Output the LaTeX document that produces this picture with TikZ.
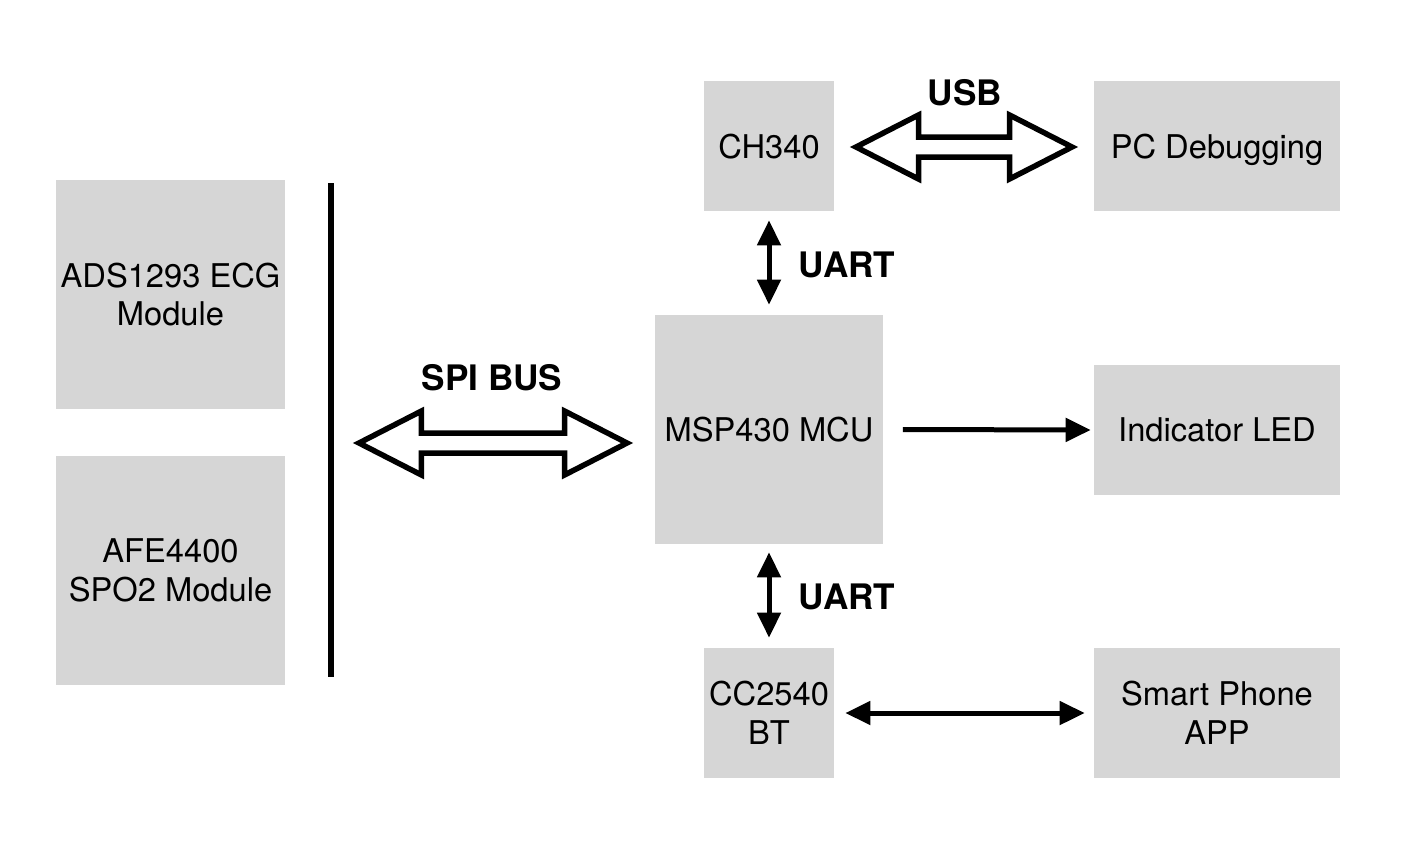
\documentclass[tikz,border=0pt]{standalone}
\usepackage{fontspec}
\setmainfont{TeX Gyre Heros}
\usetikzlibrary{arrows.meta,calc}
\definecolor{boxgray}{RGB}{214,214,214}

% hollow double arrow from tip #1 to tip #2 (horizontal)
\newcommand{\widearrow}[2]{%
	\draw[widelink] let \p1=(#1), \p2=(#2) in
		(\x1,\y1) -- (\x1+1.25cm,\y1+0.64cm) -- (\x1+1.25cm,\y1+0.2cm)
		-- (\x2-1.25cm,\y1+0.2cm) -- (\x2-1.25cm,\y1+0.64cm) -- (\x2,\y1)
		-- (\x2-1.25cm,\y1-0.64cm) -- (\x2-1.25cm,\y1-0.2cm)
		-- (\x1+1.25cm,\y1-0.2cm) -- (\x1+1.25cm,\y1-0.64cm) -- cycle;}

\tikzset{
	block/.style={fill=boxgray,align=center,inner sep=0pt},
	oneline/.style={text depth=0pt},
	bigblock/.style={block,minimum width=4.58cm,minimum height=4.58cm},
	smallblock/.style={block,minimum width=2.6cm,minimum height=2.6cm},
	wideblock/.style={block,minimum width=4.92cm,minimum height=2.6cm},
	lbl/.style={font=\fontsize{20}{24}\selectfont\bfseries},
	link/.style={line width=0.1cm,{Triangle[length=0.5cm,width=0.46cm]}-{Triangle[length=0.5cm,width=0.46cm]}},
	onelink/.style={line width=0.1cm,-{Triangle[length=0.5cm,width=0.46cm]}},
	widelink/.style={line width=0.11cm,line join=miter}
}

\begin{document}
\begin{tikzpicture}[x=0.02cm,y=-0.02cm,font=\fontsize{18.6}{22}\selectfont]
	\useasboundingbox (0,0) rectangle (1422,862);
	\node[bigblock] (ecg) at (170.5,294.5) {ADS1293 ECG\\Module};
	\node[bigblock] (spo) at (170.5,570.5) {AFE4400\\SPO2 Module};
	\node[bigblock,oneline] (mcu) at (769,429.5) {MSP430 MCU};
	\node[smallblock,oneline] (ch) at (769,146) {CH340};
	\node[smallblock] (bt) at (769,713) {CC2540\\BT};
	\node[wideblock,oneline] (pc) at (1217,146) {PC Debugging};
	\node[wideblock,oneline] (led) at (1217,430) {Indicator LED};
	\node[wideblock] (app) at (1217,713) {Smart Phone\\APP};
	% bus
	\coordinate (bustop) at (330.5,183);
	\coordinate (busbot) at (330.5,677);
	\draw[line width=0.12cm] (bustop)--(busbot);
	% wide arrows
	\coordinate (spiL) at (359,443);
	\coordinate (spiR) at (627,443);
	\widearrow{spiL}{spiR}
	\coordinate (usbL) at (856,147);
	\coordinate (usbR) at (1072,147);
	\widearrow{usbL}{usbR}
	% thin arrows
	\draw[link] ([yshift=-0.18cm]ch.south)--([yshift=0.2cm]mcu.north);
	\draw[link] ([yshift=-0.16cm]mcu.south)--([yshift=0.2cm]bt.north);
	\draw[onelink] ([xshift=0.38cm]mcu.east)--([xshift=-0.06cm]led.west);
	\draw[link] ([xshift=0.22cm]bt.east)--([xshift=-0.18cm]app.west);
	% labels
	\node[lbl] (spilbl) at (492,378) {SPI BUS};
	\node[lbl] (usblbl) at (965,93) {USB};
	\node[lbl] (uart1) at (847,265) {UART};
	\node[lbl] (uart2) at (847,597) {UART};
\end{tikzpicture}
\end{document}
